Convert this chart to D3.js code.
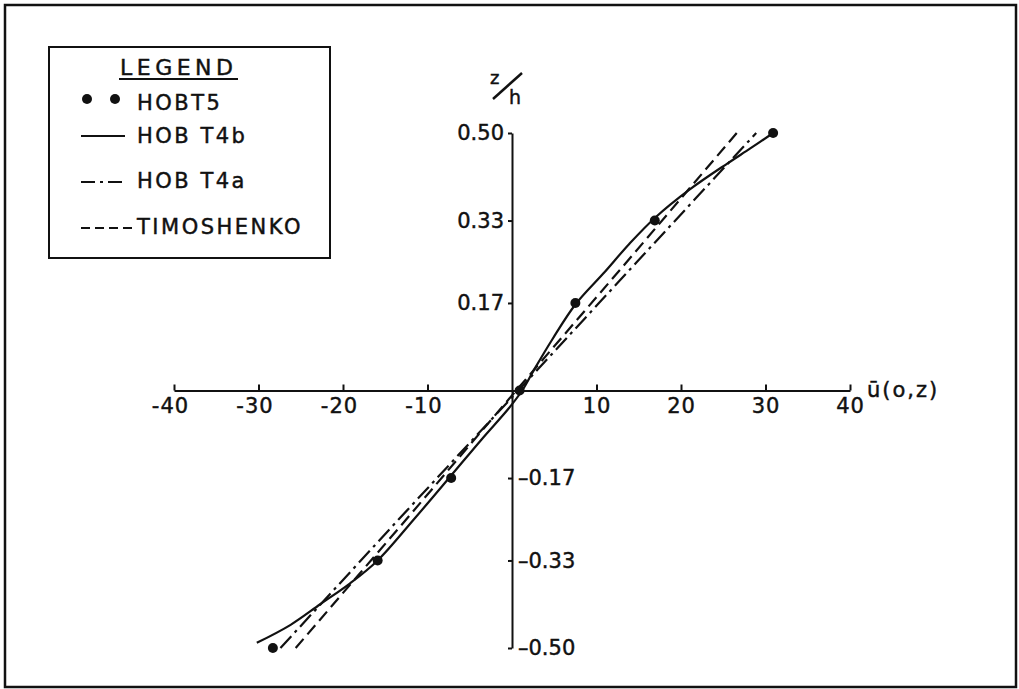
<!DOCTYPE html>
<html>
<head>
<meta charset="utf-8">
<script src="https://cdn.jsdelivr.net/npm/d3@7"></script>
<style>
  body { margin: 0; background: #fff; }
  svg text { font-family: 'DejaVu Sans', sans-serif; fill: #111; stroke: #111; stroke-width: 0.45; }
</style>
</head>
<body>
<div id="chart"></div>
<script>
// HOBT5 points (dots)
const hobt5X = [-28.3, -15.9, -7.2, 0.9, 7.5, 16.9, 30.9]
const hobt5Z = [-0.50, -0.33, -0.17, 0.0, 0.17, 0.33, 0.50]

// HOBT4b (solid)
const hobt4bX = [-30.2, -26.2, -22.7, -19.2, -15.9, -11.6, -7.3, -3.6, -0.4, 1.2, 2.6, 4.8, 7.5, 10.8, 13.9, 16.9, 21.0, 25.6, 28.2, 30.9]
const hobt4bZ = [-0.49, -0.455, -0.415, -0.375, -0.33, -0.25, -0.167, -0.095, -0.035, 0.0, 0.04, 0.1, 0.167, 0.227, 0.285, 0.335, 0.39, 0.442, 0.47, 0.5]

// HOBT4a (dash-dot)
const hobt4aX = [-27.4, -13.4, 0.75, 14.8, 28.9]
const hobt4aZ = [-0.5, -0.25, 0.0, 0.25, 0.5]

// Timoshenko (dashed)
const timoX = [-25.6, -12.5, 0.5, 13.6, 26.6]
const timoZ = [-0.5, -0.25, 0.0, 0.25, 0.5]

const xTicks = [-40, -30, -20, -10, 10, 20, 30, 40]
const yTicks = [0.5, 0.33, 0.17, -0.17, -0.33, -0.5]
const yTickLabels = ['0.50', '0.33', '0.17', '–0.17', '–0.33', '–0.50']

const width = 1019
const height = 689

const svg = d3.select('#chart')
  .append('svg')
  .attr('width', width)
  .attr('height', height)

// outer frame
svg.append('rect')
  .attr('x', 5)
  .attr('y', 5)
  .attr('width', 1011)
  .attr('height', 682)
  .attr('fill', 'none')
  .attr('stroke', '#111')
  .attr('stroke-width', 2.5)

const xScale = d3.scaleLinear().domain([-40, 40]).range([174, 850])
const yScale = d3.scaleLinear().domain([-0.5, 0.5]).range([648, 133])

// x axis, ticks pointing up
const xAxis = d3.axisBottom(xScale)
  .tickValues(xTicks)
  .tickFormat(d => d < 0 ? '-' + Math.abs(d) : d)
  .tickSizeInner(-6)
  .tickSizeOuter(0)
  .tickPadding(8)

const gx = svg.append('g')
  .attr('class', 'axis x-axis')
  .attr('transform', 'translate(0,' + yScale(0) + ')')
  .call(xAxis)

gx.select('.domain').attr('stroke', '#111').attr('stroke-width', 2)
gx.selectAll('.tick line').attr('stroke', '#111').attr('stroke-width', 2)
gx.selectAll('.tick text')
  .attr('font-size', 21)
  .attr('letter-spacing', 1)
  .attr('dx', d => d < 0 ? -4 : 0)
  .attr('fill', '#111')

// y axis
const yAxis = d3.axisLeft(yScale)
  .tickValues(yTicks)
  .tickFormat((d, i) => yTickLabels[i])
  .tickSizeInner(4)
  .tickSizeOuter(0)
  .tickPadding(4)

const gy = svg.append('g')
  .attr('class', 'axis y-axis')
  .attr('transform', 'translate(' + xScale(0) + ',0)')
  .call(yAxis)

gy.select('.domain').attr('stroke', '#111').attr('stroke-width', 2)
gy.selectAll('.tick line').attr('stroke', '#111').attr('stroke-width', 2)
gy.selectAll('.tick text')
  .attr('font-size', 21)
  .attr('fill', '#111')
gy.selectAll('.tick text')
  .filter(d => d < 0)
  .attr('x', 6)
  .attr('text-anchor', 'start')

// axis titles
svg.append('text')
  .attr('x', 867)
  .attr('y', 397)
  .attr('font-size', 21)
  .attr('letter-spacing', 2)
  .text('ū(o,z)')

svg.append('text')
  .attr('x', 490)
  .attr('y', 84)
  .attr('font-size', 18)
  .text('z')
svg.append('line')
  .attr('x1', 493)
  .attr('y1', 99)
  .attr('x2', 522)
  .attr('y2', 73)
  .attr('stroke', '#111')
  .attr('stroke-width', 2.5)
svg.append('text')
  .attr('x', 509)
  .attr('y', 104)
  .attr('font-size', 19)
  .text('h')

// curves
const line = d3.line()
  .x(d => xScale(d[0]))
  .y(d => yScale(d[1]))

const solidPts = hobt4bX.map((x, i) => [x, hobt4bZ[i]])
const dashDotPts = hobt4aX.map((x, i) => [x, hobt4aZ[i]])
const dashedPts = timoX.map((x, i) => [x, timoZ[i]])

svg.append('path')
  .datum(dashedPts)
  .attr('d', line)
  .attr('fill', 'none')
  .attr('stroke', '#111')
  .attr('stroke-width', 2.2)
  .attr('stroke-dasharray', '12,6')

svg.append('path')
  .datum(dashDotPts)
  .attr('d', line)
  .attr('fill', 'none')
  .attr('stroke', '#111')
  .attr('stroke-width', 2.2)
  .attr('stroke-dasharray', '16,5,3,5')

svg.append('path')
  .datum(solidPts)
  .attr('d', line.curve(d3.curveCatmullRom))
  .attr('fill', 'none')
  .attr('stroke', '#111')
  .attr('stroke-width', 2.2)

svg.selectAll('.dot')
  .data(hobt5X.map((x, i) => [x, hobt5Z[i]]))
  .enter()
  .append('circle')
  .attr('class', 'dot')
  .attr('cx', d => xScale(d[0]))
  .attr('cy', d => yScale(d[1]))
  .attr('r', 5)
  .attr('fill', '#111')

// legend
const legend = svg.append('g').attr('class', 'legend')

legend.append('rect')
  .attr('x', 49)
  .attr('y', 47)
  .attr('width', 281)
  .attr('height', 211)
  .attr('fill', 'none')
  .attr('stroke', '#111')
  .attr('stroke-width', 2)

legend.append('text')
  .attr('x', 120)
  .attr('y', 75)
  .attr('font-size', 22)
  .attr('letter-spacing', 4.5)
  .text('LEGEND')
legend.append('line')
  .attr('x1', 119)
  .attr('x2', 238)
  .attr('y1', 79)
  .attr('y2', 79)
  .attr('stroke', '#111')
  .attr('stroke-width', 2)

legend.append('circle').attr('cx', 87).attr('cy', 99).attr('r', 5).attr('fill', '#111')
legend.append('circle').attr('cx', 115).attr('cy', 99).attr('r', 5).attr('fill', '#111')

legend.append('line')
  .attr('x1', 81).attr('x2', 125).attr('y1', 136).attr('y2', 136)
  .attr('stroke', '#111').attr('stroke-width', 2)
legend.append('line')
  .attr('x1', 81).attr('x2', 126).attr('y1', 182).attr('y2', 182)
  .attr('stroke', '#111').attr('stroke-width', 2)
  .attr('stroke-dasharray', '14,5,3,5')
legend.append('line')
  .attr('x1', 81).attr('x2', 134).attr('y1', 228).attr('y2', 228)
  .attr('stroke', '#111').attr('stroke-width', 2)
  .attr('stroke-dasharray', '9,5')

const legendLabels = ['HOBT5', 'HOB T4b', 'HOB T4a', 'TIMOSHENKO']
const legendY = [110, 143, 188, 234]

legend.selectAll('.legend-label')
  .data(legendLabels)
  .enter()
  .append('text')
  .attr('class', 'legend-label')
  .attr('x', 137)
  .attr('y', (d, i) => legendY[i])
  .attr('font-size', 21)
  .attr('letter-spacing', 2.5)
  .text(d => d)
</script>
</body>
</html>
